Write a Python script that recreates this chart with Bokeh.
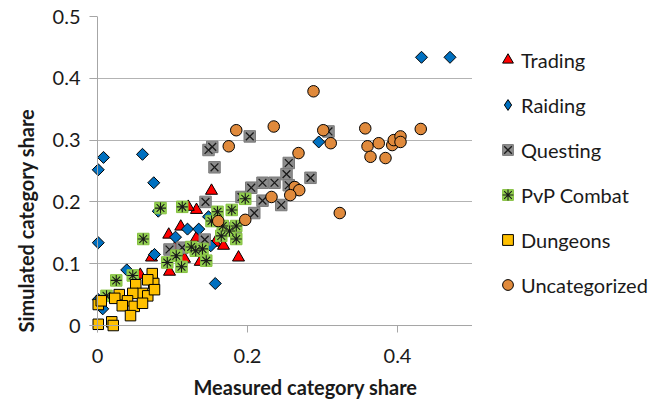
import math
from bokeh.plotting import figure
from bokeh.layouts import row
from bokeh.models import (Range1d, FixedTicker, Legend, LegendItem, Span, Title)
from bokeh.embed import file_html
from bokeh.resources import INLINE

# --- data: measured vs simulated share per activity category ---
trading_x = [0.152, 0.132, 0.121, 0.095, 0.111, 0.132, 0.188, 0.137, 0.096, 0.072, 0.057, 0.116, 0.157, 0.168, 0.104]
trading_y = [0.218, 0.187, 0.192, 0.147, 0.160, 0.142, 0.110, 0.103, 0.087, 0.110, 0.082, 0.108, 0.134, 0.129, 0.127]

raiding_x = [0.470, 0.432, 0.295, 0.008, 0.060, 0.001, 0.075, 0.001, 0.081, 0.148, 0.120, 0.135, 0.104, 0.076, 0.151, 0.157, 0.039, 0.001, 0.007]
raiding_y = [0.434, 0.434, 0.297, 0.272, 0.277, 0.252, 0.231, 0.134, 0.185, 0.176, 0.156, 0.156, 0.143, 0.115, 0.129, 0.068, 0.090, 0.042, 0.027]

questing_x = [0.148, 0.153, 0.156, 0.203, 0.308, 0.255, 0.252, 0.284, 0.255, 0.220, 0.236, 0.205, 0.192, 0.220, 0.245, 0.209, 0.144, 0.184, 0.143, 0.096, 0.113]
questing_y = [0.284, 0.289, 0.256, 0.306, 0.314, 0.263, 0.245, 0.239, 0.227, 0.231, 0.231, 0.223, 0.208, 0.202, 0.195, 0.182, 0.200, 0.158, 0.139, 0.123, 0.126]

pvp_x = [0.084, 0.113, 0.160, 0.179, 0.197, 0.061, 0.125, 0.140, 0.105, 0.093, 0.112, 0.145, 0.025, 0.047, 0.012, 0.167, 0.185, 0.176, 0.165, 0.185, 0.152, 0.131]
pvp_y = [0.190, 0.192, 0.184, 0.187, 0.205, 0.140, 0.127, 0.124, 0.113, 0.102, 0.095, 0.105, 0.073, 0.081, 0.048, 0.161, 0.140, 0.153, 0.145, 0.161, 0.169, 0.121]

dungeons_x = [0.073, 0.075, 0.067, 0.051, 0.060, 0.047, 0.029, 0.023, 0.040, 0.049, 0.033, 0.001, 0.044, 0.001, 0.019, 0.021, 0.067, 0.076, 0.060, 0.005]
dungeons_y = [0.084, 0.068, 0.074, 0.066, 0.052, 0.052, 0.050, 0.044, 0.040, 0.031, 0.032, 0.034, 0.016, 0.002, 0.006, 0.000, 0.048, 0.058, 0.036, 0.040]

uncat_x = [0.185, 0.175, 0.235, 0.288, 0.301, 0.311, 0.268, 0.357, 0.360, 0.375, 0.364, 0.384, 0.393, 0.395, 0.404, 0.404, 0.431, 0.263, 0.269, 0.257, 0.232, 0.323, 0.161, 0.197]
uncat_y = [0.316, 0.290, 0.322, 0.379, 0.316, 0.295, 0.279, 0.319, 0.290, 0.295, 0.273, 0.271, 0.292, 0.300, 0.306, 0.297, 0.318, 0.224, 0.219, 0.211, 0.208, 0.182, 0.169, 0.171]

series_names = ["Trading", "Raiding", "Questing", "PvP Combat", "Dungeons", "Uncategorized"]

x_ticks = [0, 0.2, 0.4]
x_tick_labels = ["0", "0.2", "0.4"]
y_ticks = [0, 0.1, 0.2, 0.3, 0.4, 0.5]
y_tick_labels = ["0", "0.1", "0.2", "0.3", "0.4", "0.5"]

FONT = "Lato"
AXIS_GRAY = "#a6a6a6"
TEXT = "#1a1a1a"

# marker styles per series (base marker, optional overlay marker)
STYLES = [
    (dict(marker="triangle", size=12, fill_color="#ff0000", line_color="#000000", line_width=1), None),
    (dict(marker="square", angle=math.pi / 4, size=8.5, fill_color="#0070c0", line_color="#000000", line_width=1), None),
    (dict(marker="square", size=11.5, fill_color="#8c8c8c", line_color="#7a7a7a", line_width=1),
     dict(marker="x", size=11, line_color=TEXT, line_width=1.3)),
    (dict(marker="square", size=11.5, fill_color="#92d050", line_color="#86c040", line_width=1),
     dict(marker="asterisk", size=11, line_color=TEXT, line_width=1.1)),
    (dict(marker="square", size=10.5, fill_color="#ffc000", line_color="#000000", line_width=1), None),
    (dict(marker="circle", size=11.5, fill_color="#e08a3c", line_color="#000000", line_width=1), None),
]
SERIES = [(trading_x, trading_y), (raiding_x, raiding_y), (questing_x, questing_y),
          (pvp_x, pvp_y), (dungeons_x, dungeons_y), (uncat_x, uncat_y)]

# frame geometry: the data origin sits a few pixels inside the frame so
# markers lying on the axes are not cut off
PLOT_W, LEGEND_W, H = 472, 176, 405
LEFT, TOP, BOTTOM = 89, 16, 72
X_PX_PER_UNIT, Y_PX_PER_UNIT = 750.0, 620.0
x_lo = 0.5 - (PLOT_W - LEFT) / X_PX_PER_UNIT
y_lo = 0.5 - (H - TOP - BOTTOM) / Y_PX_PER_UNIT

p = figure(width=PLOT_W, height=H,
           x_range=Range1d(x_lo, 0.5), y_range=Range1d(y_lo, 0.5),
           output_backend="svg", toolbar_location=None,
           min_border_left=LEFT, min_border_right=0,
           min_border_top=TOP, min_border_bottom=BOTTOM)
p.outline_line_color = None
p.background_fill_color = "white"
p.border_fill_color = "white"

p.xgrid.visible = False
p.ygrid.grid_line_color = "#b3b3b3"
p.ygrid.grid_line_width = 1

p.xaxis.ticker = FixedTicker(ticks=x_ticks)
p.yaxis.ticker = FixedTicker(ticks=y_ticks)
p.xaxis.major_label_overrides = dict(zip(x_ticks, x_tick_labels))
p.yaxis.major_label_overrides = dict(zip(y_ticks, y_tick_labels))

for ax in (p.xaxis, p.yaxis):
    ax.axis_line_color = None
    ax.major_tick_line_color = AXIS_GRAY
    ax.minor_tick_line_color = None
    ax.major_tick_out = 0
    ax.major_label_text_font = FONT
    ax.major_label_text_font_size = "20px"
    ax.major_label_text_color = TEXT
# tick marks reach from the frame edge up to the zero lines
p.xaxis.major_tick_in = int(round(-y_lo * Y_PX_PER_UNIT))
p.yaxis.major_tick_in = int(round(-x_lo * X_PX_PER_UNIT))
p.xaxis.major_label_standoff = 16
p.yaxis.major_label_standoff = 9

p.add_layout(Span(location=0, dimension="height", line_color=AXIS_GRAY, line_width=1))
p.add_layout(Span(location=0, dimension="width", line_color=AXIS_GRAY, line_width=1))

for (xs, ys), (base, overlay) in zip(SERIES, STYLES):
    p.scatter(xs, ys, **base)
    if overlay:
        p.scatter(xs, ys, **overlay)

p.add_layout(Title(text="Measured category share", align="left", offset=104,
                   text_font=FONT, text_font_style="bold",
                   text_font_size="20px", text_color=TEXT, standoff=14), "below")
p.add_layout(Title(text="Simulated category share", align="left", offset=0,
                   text_font=FONT, text_font_style="bold",
                   text_font_size="20px", text_color=TEXT, standoff=23), "left")

# legend panel to the right of the plot area; its renderers share the
# series data but its ranges keep them out of view, so only the legend shows
lg = figure(width=LEGEND_W, height=H, x_range=Range1d(10, 11), y_range=Range1d(10, 11),
            output_backend="svg", toolbar_location=None,
            x_axis_location=None, y_axis_location=None,
            min_border=0)
lg.outline_line_color = None
lg.grid.visible = False
lg.border_fill_color = "white"
lg.background_fill_color = "white"

items = []
for name, (xs, ys), (base, overlay) in zip(series_names, SERIES, STYLES):
    key = dict(base)
    if key.pop("angle", None) is not None:
        # legend swatches ignore marker rotation, so use a true diamond here
        key["marker"] = "diamond"
    rs = [lg.scatter(xs, ys, **key)]
    if overlay:
        rs.append(lg.scatter(xs, ys, **overlay))
    items.append(LegendItem(label=name, renderers=rs))

legend = Legend(items=items, location=(22, 34))
legend.glyph_width = 27
legend.glyph_height = 27
legend.label_height = 27
legend.spacing = 18
legend.padding = 0
legend.margin = 0
legend.label_standoff = 0
legend.border_line_color = None
legend.background_fill_alpha = 0
legend.label_text_font = FONT
legend.label_text_font_size = "20px"
legend.label_text_color = TEXT
lg.add_layout(legend, "center")

layout = row(p, lg, spacing=0)
open("out.html", "w").write(file_html(layout, INLINE))
